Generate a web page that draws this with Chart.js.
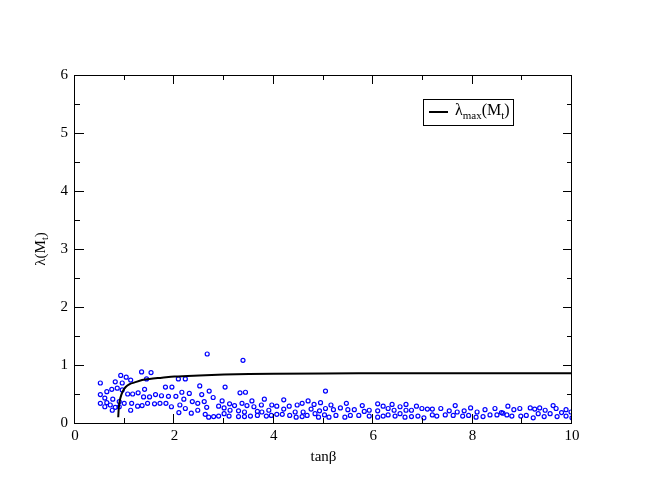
<!DOCTYPE html>
<html>
<head>
<meta charset="utf-8">
<script src="https://cdn.jsdelivr.net/npm/chart.js@4.4.0/dist/chart.umd.min.js"></script>
<style>
  html, body { margin: 0; padding: 0; background: #fff; }
  #wrap { width: 645px; height: 498px; }
</style>
</head>
<body>
<div id="wrap"><canvas id="chart" width="645" height="498"></canvas></div>
<script>
// scan points: tanβ and λ(Mt)
var scatterX = [
  0.51, 0.64, 0.74, 0.85, 0.95, 0.81, 0.95, 0.92, 1.03, 1.12, 1.34, 1.53, 1.44, 1.82, 1.40,
  0.51, 1.06, 1.16, 1.27, 1.38, 1.50, 1.62, 1.74, 1.88, 0.60, 0.76, 0.51, 0.64, 0.89, 0.99,
  1.14, 1.26, 1.35, 1.46, 1.60, 1.71, 1.83, 0.60, 0.71, 0.81, 0.89, 1.12, 1.94, 0.75, 1.95,
  2.66, 3.38, 2.08, 2.22, 2.51, 3.02, 2.15, 2.30, 2.55, 2.70, 3.32, 3.43, 2.03, 2.19, 2.78,
  2.36, 2.47, 2.60, 2.96, 3.11, 3.21, 3.36, 3.46, 3.56, 2.11, 2.22, 2.65, 2.89, 3.00, 3.12,
  3.29, 3.41, 3.60, 2.09, 2.34, 2.47, 2.62, 2.69, 2.79, 2.89, 3.00, 3.10, 3.29, 3.41, 3.53,
  5.04, 3.81, 4.20, 3.75, 3.96, 4.06, 4.31, 4.47, 4.57, 4.69, 4.81, 4.94, 5.15, 3.67, 3.76,
  3.90, 4.20, 4.43, 4.59, 4.75, 4.92, 5.04, 5.20, 3.85, 3.95, 4.06, 4.17, 4.32, 4.45, 4.57,
  4.67, 4.83, 4.90, 5.02, 5.11, 5.25, 3.67,
  5.46, 5.34, 5.49, 5.62, 5.78, 5.92, 6.09, 6.20, 6.30, 6.38, 6.54, 6.66, 6.77, 6.87, 5.43,
  5.54, 5.71, 5.82, 5.92, 6.09, 6.09, 6.20, 6.30, 6.42, 6.44, 6.54, 6.66, 6.64, 6.77, 6.90,
  6.98, 7.02, 7.09, 7.19, 7.36, 7.53, 7.65, 7.69, 7.83, 7.96, 8.09, 8.25, 8.45, 8.58, 7.19,
  7.28, 7.45, 7.61, 7.80, 7.92, 8.07, 8.21, 8.35, 8.49,
  8.71, 8.83, 8.95, 9.16, 9.25, 9.35, 9.46, 9.62, 9.68, 9.88, 9.98, 8.61, 8.69, 8.79, 8.97,
  9.08, 9.22, 9.32, 9.44, 9.56, 9.70, 9.79, 9.88, 10.0
];
var scatterY = [
  0.69, 0.54, 0.58, 0.60, 0.57, 0.71, 0.69, 0.82, 0.79, 0.74, 0.88, 0.87, 0.76, 0.62, 0.58,
  0.49, 0.50, 0.50, 0.52, 0.45, 0.45, 0.49, 0.47, 0.46, 0.43, 0.41, 0.34, 0.35, 0.37, 0.34,
  0.34, 0.29, 0.30, 0.34, 0.33, 0.34, 0.34, 0.28, 0.31, 0.27, 0.28, 0.22, 0.28, 0.22, 0.62,
  1.19, 1.08, 0.76, 0.76, 0.64, 0.62, 0.53, 0.51, 0.49, 0.55, 0.52, 0.53, 0.46, 0.41, 0.44,
  0.37, 0.34, 0.37, 0.38, 0.33, 0.30, 0.34, 0.30, 0.38, 0.31, 0.25, 0.27, 0.29, 0.26, 0.22,
  0.21, 0.19, 0.28, 0.18, 0.17, 0.22, 0.15, 0.10, 0.11, 0.12, 0.16, 0.12, 0.11, 0.11, 0.12,
  0.55, 0.41, 0.40, 0.31, 0.31, 0.29, 0.29, 0.31, 0.34, 0.38, 0.32, 0.35, 0.31, 0.20, 0.19,
  0.22, 0.24, 0.19, 0.19, 0.24, 0.21, 0.25, 0.23, 0.12, 0.13, 0.15, 0.15, 0.13, 0.10, 0.11,
  0.13, 0.16, 0.10, 0.14, 0.10, 0.13, 0.13,
  0.34, 0.26, 0.23, 0.23, 0.30, 0.22, 0.33, 0.29, 0.25, 0.32, 0.28, 0.32, 0.22, 0.29, 0.10,
  0.13, 0.13, 0.20, 0.12, 0.21, 0.10, 0.12, 0.14, 0.22, 0.12, 0.16, 0.22, 0.10, 0.11, 0.12,
  0.25, 0.09, 0.24, 0.24, 0.25, 0.21, 0.30, 0.19, 0.21, 0.26, 0.19, 0.23, 0.25, 0.18, 0.14,
  0.12, 0.14, 0.13, 0.12, 0.13, 0.10, 0.11, 0.14, 0.14,
  0.29, 0.23, 0.25, 0.26, 0.24, 0.26, 0.22, 0.30, 0.25, 0.23, 0.19, 0.17, 0.14, 0.12, 0.12,
  0.13, 0.09, 0.16, 0.11, 0.16, 0.11, 0.18, 0.12, 0.09
];

// λmax(Mt) curve
var curveX = [0.87, 0.88, 0.90, 0.93, 0.97, 1.02, 1.10, 1.20, 1.35, 1.50, 1.75, 2.0, 2.5, 3.0, 3.5, 4.0, 5.0, 6.0, 7.0, 8.0, 9.0, 10.0];
var curveY = [0.10, 0.25, 0.38, 0.48, 0.56, 0.62, 0.67, 0.70, 0.74, 0.76, 0.78, 0.80, 0.82, 0.835, 0.845, 0.85, 0.855, 0.857, 0.858, 0.858, 0.858, 0.858];

// tick values
var xMajor = [0, 2, 4, 6, 8, 10];
var xMinor = [1, 3, 5, 7, 9];
var yMajor = [0, 1, 2, 3, 4, 5, 6];
var yMinor = [0.5, 1.5, 2.5, 3.5, 4.5, 5.5];

var SERIF = "'Liberation Serif', 'DejaVu Serif', serif";

function toPoints(xs, ys) {
  return xs.map(function (v, i) { return { x: v, y: ys[i] }; });
}

// text with subscripts, parts = [{t:"λ"}, {t:"max", sub:true}, ...]
function richWidth(ctx, parts, size) {
  var w = 0;
  parts.forEach(function (p) {
    ctx.font = (p.sub ? Math.round(size * 0.68) : size) + "px " + SERIF;
    w += ctx.measureText(p.t).width;
  });
  return w;
}
function drawRich(ctx, parts, x, y, size) {
  var cx = x;
  parts.forEach(function (p) {
    ctx.font = (p.sub ? Math.round(size * 0.68) : size) + "px " + SERIF;
    ctx.fillText(p.t, cx, y + (p.sub ? size * 0.3 : 0));
    cx += ctx.measureText(p.t).width;
  });
}

// frame with inward ticks, axis titles and legend box (xmgrace look)
var gracePlugin = {
  id: "grace",
  afterDatasetsDraw: function (chart) {
    var ctx = chart.ctx;
    var a = chart.chartArea;
    var xs = chart.scales.x, ys = chart.scales.y;
    ctx.save();
    ctx.strokeStyle = "#000";
    ctx.lineWidth = 1;
    ctx.strokeRect(a.left - 0.5, a.top + 0.5, a.right - a.left, a.bottom - a.top);

    function xTick(v, len) {
      var p = Math.round(xs.getPixelForValue(v)) - 0.5;
      ctx.beginPath();
      ctx.moveTo(p, a.bottom); ctx.lineTo(p, a.bottom - len);
      ctx.moveTo(p, a.top); ctx.lineTo(p, a.top + len);
      ctx.stroke();
    }
    function yTick(v, len) {
      var p = Math.round(ys.getPixelForValue(v)) + 0.5;
      ctx.beginPath();
      ctx.moveTo(a.left, p); ctx.lineTo(a.left + len, p);
      ctx.moveTo(a.right, p); ctx.lineTo(a.right - len, p);
      ctx.stroke();
    }
    xMajor.forEach(function (v) { xTick(v, 9); });
    xMinor.forEach(function (v) { xTick(v, 5); });
    yMajor.forEach(function (v) { yTick(v, 9); });
    yMinor.forEach(function (v) { yTick(v, 5); });

    ctx.fillStyle = "#000";
    ctx.textBaseline = "middle";

    // x title
    ctx.font = "15px " + SERIF;
    ctx.textAlign = "center";
    ctx.fillText("tanβ", (a.left + a.right) / 2, 457);

    // y title
    ctx.textAlign = "left";
    var yParts = [{ t: "λ(M" }, { t: "t", sub: true }, { t: ")" }];
    var yw = richWidth(ctx, yParts, 15);
    ctx.save();
    ctx.translate(41, (a.top + a.bottom) / 2);
    ctx.rotate(-Math.PI / 2);
    drawRich(ctx, yParts, -yw / 2, 0, 15);
    ctx.restore();

    // legend
    ctx.strokeRect(423.5, 99.5, 90, 26);
    ctx.lineWidth = 2;
    ctx.beginPath();
    ctx.moveTo(429, 112); ctx.lineTo(448, 112);
    ctx.stroke();
    var lParts = [{ t: "λ" }, { t: "max", sub: true }, { t: "(M" }, { t: "t", sub: true }, { t: ")" }];
    drawRich(ctx, lParts, 455, 111, 16);
    ctx.restore();
  }
};

new Chart(document.getElementById("chart"), {
  type: "scatter",
  data: {
    datasets: [
      {
        label: "λmax(Mt)",
        data: toPoints(curveX, curveY),
        showLine: true,
        borderColor: "#000",
        borderWidth: 2,
        pointRadius: 0,
        cubicInterpolationMode: "monotone",
        fill: false
      },
      {
        label: "scan",
        data: toPoints(scatterX, scatterY),
        showLine: false,
        borderColor: "#0000ff",
        backgroundColor: "rgba(255,255,255,0)",
        pointRadius: 2,
        pointBorderWidth: 1.2
      }
    ]
  },
  options: {
    responsive: false,
    animation: false,
    devicePixelRatio: 1,
    layout: { padding: { left: 0, right: 73, top: 75, bottom: 0 } },
    plugins: {
      legend: { display: false },
      tooltip: { enabled: false }
    },
    scales: {
      x: {
        type: "linear",
        min: 0,
        max: 10,
        afterFit: function (s) { s.height = 75; },
        grid: { display: false, drawTicks: false },
        border: { display: false },
        ticks: { stepSize: 2, padding: 4, color: "#000", font: { family: SERIF, size: 15 } }
      },
      y: {
        type: "linear",
        min: 0,
        max: 6,
        afterFit: function (s) { s.width = 75; },
        grid: { display: false, drawTicks: false },
        border: { display: false },
        ticks: { stepSize: 1, padding: 7, color: "#000", font: { family: SERIF, size: 15 } }
      }
    }
  },
  plugins: [gracePlugin]
});
</script>
</body>
</html>
